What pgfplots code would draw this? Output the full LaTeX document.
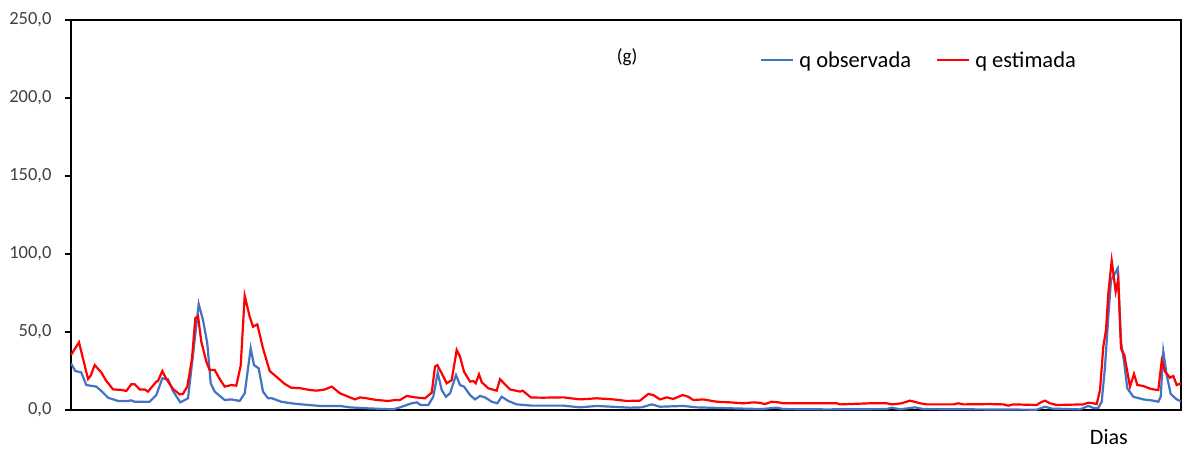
\documentclass[border=0pt]{standalone}
\usepackage{pgfplots}
\pgfplotsset{compat=1.18}
\usepackage{fontspec}
\setmainfont{Carlito}
\definecolor{obsblue}{HTML}{4472C4}
\definecolor{estred}{HTML}{FF0000}
\definecolor{tickgray}{HTML}{404040}
\begin{document}
\begin{tikzpicture}
\useasboundingbox (-71pt,-38pt) rectangle (1112pt,410pt);
\begin{axis}[
  at={(0pt,0pt)}, anchor=south west,
  scale only axis, width=1110pt, height=390pt,
  xmin=0, xmax=1110, ymin=0, ymax=250,
  xtick=\empty, ytick={0,50,...,250}, ytick pos=left,
  tick align=outside, major tick length=6pt,
  yticklabel style={/pgf/number format/fixed, /pgf/number format/fixed zerofill, /pgf/number format/precision=1, /pgf/number format/use comma, /pgf/number format/assume math mode=true, font=\fontsize{18.5}{20}\selectfont, text=tickgray, anchor=east, xshift=-10pt},
  axis line style={line width=1.3pt},
  every tick/.style={black, line width=1.3pt},
  clip mode=individual,
  legend columns=2,
  legend style={at={(0.6207,0.897)}, anchor=west, draw=none, fill=none, inner sep=0pt,
    font=\fontsize{22.5}{24}\selectfont, text=black,
    nodes={inner sep=0pt}, column sep=5pt,
    /tikz/every even column/.append style={column sep=25pt}},
  legend image code/.code={\draw[#1] (0pt,0pt) -- (32pt,0pt);},
]
\addplot[obsblue, line width=2.2pt] coordinates {
(0,29.9) (4.3,25.0) (10.3,24.1) (15.3,16.0) (25.3,15.0) (30.3,12.2) (37,7.9) (47,5.8) (57,5.8) (60,6.2) (63.7,5.3) (78.7,5.3) (85.3,9.6) (91.3,20.3) (97,19.7) (102,12.2) (109.3,4.9) (117,7.5) (122,35.3) (127.7,67.9) (132,57.7) (136.3,42.7) (139.7,17.1) (143.7,11.8) (153.7,6.4) (160.3,6.8) (168.7,5.8) (173.7,10.7) (179.7,39.5) (183,28.8) (187.7,26.7) (192,11.8) (197,7.5) (201,7.5) (210.3,5.3) (220.3,4.3) (229,3.7) (249,2.6) (269,2.6) (279,1.7) (295.7,1.1) (322.3,0.4) (329,1.7) (335.7,3.2) (340.7,4.3) (345.7,4.9) (349.7,3.2) (357.3,3.2) (362.3,8.5) (366.7,23.9) (370.7,12.8) (375,8.5) (379,10.7) (385,22.4) (389,16.0) (393,15.0) (399,9.6) (404,6.8) (409,9.0) (414,8.1) (420.7,5.3) (426.3,4.3) (430.7,8.5) (437.3,5.8) (445.7,3.6) (460.7,2.8) (492.3,2.8) (509,1.7) (525.7,2.6) (559,1.5) (570.7,1.7) (580.7,3.6) (589,2.1) (612.3,2.6) (625.7,1.7) (659,1.1) (690.7,0.6) (705.7,1.5) (712.3,0.6) (755.7,0.4) (815.7,0.6) (820.7,1.5) (829,0.4) (844,1.7) (852.3,0.6) (965.7,0.2) (974,2.1) (980.7,0.9) (1009,0.4) (1017.3,2.6) (1022.3,1.3) (1027.3,1.3) (1030.7,5.3) (1034,27.8) (1037.3,59.8) (1040,83.3) (1044,87.6) (1046.7,90.8) (1050,43.8) (1053,31.0) (1056.3,13.9) (1062.3,8.5) (1072.3,6.8) (1082.3,6.0) (1087.3,5.3) (1089.7,8.5) (1092.3,37.4) (1095.7,22.4) (1099.7,10.3) (1105.7,6.8) (1110,5.5)
};
\addlegendentry{q observada}
\addplot[estred, line width=2.2pt] coordinates {
(0,35.3) (8,43.4) (17,19.9) (19.7,22.0) (23.7,28.8) (30.3,24.1) (35.3,18.6) (38.7,16.0) (42,13.2) (50.3,12.9) (55.3,12.2) (60.3,16.5) (63.7,16.5) (68.7,13.2) (73.7,13.2) (77,11.8) (85.3,18.2) (87,18.6) (91.3,25.0) (95.3,19.9) (102,13.5) (108.7,10.0) (112,10.4) (116.3,15.0) (121,33.0) (124.3,58.8) (127,60.3) (130.3,43.8) (135.3,31.0) (138.7,25.6) (143.7,25.6) (148.7,19.9) (153.7,15.0) (160.3,16.0) (165.3,15.6) (169.7,28.4) (173.7,73.3) (178.7,59.8) (182,53.4) (186.3,54.9) (192,39.5) (198.7,25.0) (205.3,21.4) (213.7,16.7) (220.3,14.3) (229,14.0) (239,12.8) (245.7,12.4) (254,13.2) (260.7,15.0) (269,10.7) (277.3,8.5) (284,6.8) (289,8.1) (295.7,7.5) (305.7,6.4) (317.3,5.8) (324,6.4) (329,6.4) (335.7,9.0) (344,8.1) (354,7.5) (360.7,11.1) (364,27.8) (366.3,28.8) (370.7,23.5) (375.7,17.1) (380.7,19.2) (385.7,38.5) (389,34.2) (393,24.6) (399,18.2) (402.3,18.6) (404.7,17.1) (408,22.9) (410.7,17.8) (417.3,13.9) (425.7,12.4) (429,19.7) (433,17.1) (439,13.2) (449,11.8) (451.7,12.4) (460,8.0) (472.3,7.9) (492.3,8.1) (509,6.8) (525.7,7.5) (542.3,6.8) (555.7,5.8) (569,6.0) (577.3,10.3) (582.3,9.6) (589,6.8) (595.7,8.1) (602.3,7.1) (611.7,9.6) (617.3,8.5) (622.3,6.4) (632.3,6.8) (645.7,5.3) (659,4.9) (672.3,4.3) (682.3,4.9) (689,4.6) (694,3.8) (700.7,5.3) (707.3,4.9) (712.3,4.3) (765.7,4.3) (769,3.6) (799,4.3) (815.7,4.3) (820.7,3.6) (830.7,4.3) (839,6.0) (845.7,4.9) (849,4.3) (855.7,3.6) (882.3,3.6) (887.3,4.3) (892.3,3.6) (919,3.8) (932.3,3.6) (937.3,2.8) (942.3,3.6) (965.7,3.2) (969.7,4.9) (974,6.0) (979,4.3) (985.7,3.2) (1012.3,3.6) (1017.3,4.7) (1022.3,4.3) (1025.7,3.8) (1029,12.8) (1032.3,40.6) (1035,51.3) (1037.3,74.8) (1040.7,95.7) (1044.7,75.9) (1047.3,83.8) (1050,39.5) (1053.3,35.3) (1059,15.0) (1063,23.1) (1066.3,16.0) (1072.3,15.4) (1079,13.7) (1085.7,12.8) (1087.3,12.8) (1090.7,31.6) (1094,24.6) (1099,20.7) (1102.3,21.8) (1105.7,16.0) (1110,17.1)
};
\addlegendentry{q estimada}
\node[font=\fontsize{19}{21}\selectfont, text=black] at (rel axis cs:0.501,0.905) {(g)};
\node[font=\fontsize{22}{24}\selectfont, text=black] at (rel axis cs:0.935,-0.069) {Dias};
\end{axis}
\end{tikzpicture}
\end{document}
